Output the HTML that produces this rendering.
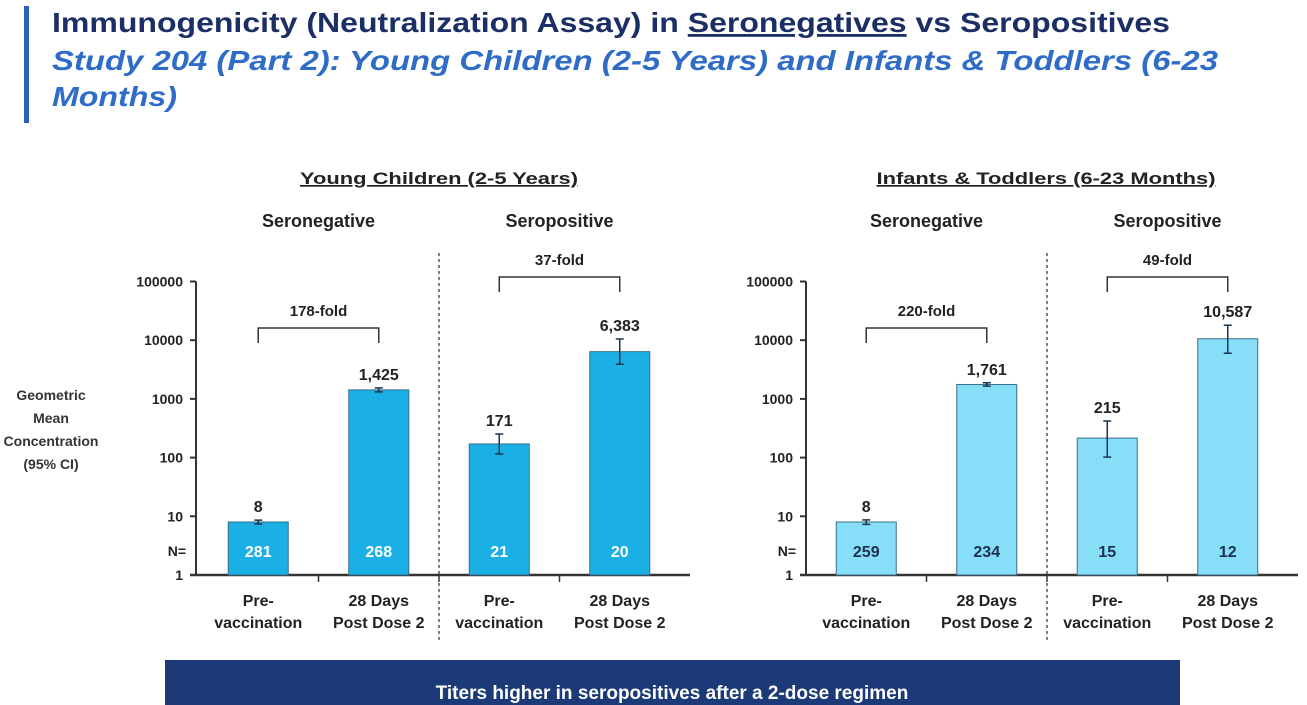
<!DOCTYPE html>
<html><head><meta charset="utf-8">
<style>
html,body{margin:0;padding:0;background:#fff;}
body{width:1307px;height:705px;overflow:hidden;position:relative;font-family:"Liberation Sans",Arial,sans-serif;}
svg{position:absolute;left:0;top:0;}
</style></head>
<body>
<svg id="chart" width="1307" height="705" viewBox="0 0 1307 705" font-family="Liberation Sans, Arial, sans-serif">
  <rect x="24" y="6" width="5" height="117" fill="#2c5fb5"/>
  <text x="52" y="32" font-size="28" font-weight="bold" fill="#1b2f66" textLength="1118" lengthAdjust="spacingAndGlyphs">Immunogenicity (Neutralization Assay) in <tspan text-decoration="underline">Seronegatives</tspan> vs Seropositives</text>
  <text x="52" y="70" font-size="28" font-weight="bold" font-style="italic" fill="#2e6cc8" textLength="1166" lengthAdjust="spacingAndGlyphs">Study 204 (Part 2): Young Children (2-5 Years) and Infants &amp; Toddlers (6-23</text>
  <text x="52" y="106" font-size="28" font-weight="bold" font-style="italic" fill="#2e6cc8" textLength="125" lengthAdjust="spacingAndGlyphs">Months)</text>

  <g font-size="14" font-weight="bold" fill="#333" text-anchor="middle">
    <text x="51" y="400">Geometric</text>
    <text x="51" y="423">Mean</text>
    <text x="51" y="446">Concentration</text>
    <text x="51" y="469">(95% CI)</text>
  </g>

  <rect x="165" y="660" width="1015" height="45" fill="#1c3a78"/>
  <text x="672" y="699" font-size="19" font-weight="bold" fill="#fff" text-anchor="middle">Titers higher in seropositives after a 2-dose regimen</text>
  <g id="panels"></g>
</svg>
<script>
const panelTitles = ["Young Children (2-5 Years)", "Infants & Toddlers (6-23 Months)"];
const groupLabels = ["Seronegative", "Seropositive"];
const catLine1 = ["Pre-", "28 Days", "Pre-", "28 Days"];
const catLine2 = ["vaccination", "Post Dose 2", "vaccination", "Post Dose 2"];
const childGMC = [8, 1425, 171, 6383];
const childLow = [7.4, 1320, 115, 3900];
const childHigh = [8.6, 1540, 252, 10500];
const childN = ["281", "268", "21", "20"];
const childLabels = ["8", "1,425", "171", "6,383"];
const childFold = ["178-fold", "37-fold"];
const infGMC = [8, 1761, 215, 10587];
const infLow = [7.3, 1650, 102, 6000];
const infHigh = [8.7, 1880, 420, 18000];
const infN = ["259", "234", "15", "12"];
const infLabels = ["8", "1,761", "215", "10,587"];
const infFold = ["220-fold", "49-fold"];
const yTicks = [1, 10, 100, 1000, 10000, 100000];
const yTickLabels = ["1", "10", "100", "1000", "10000", "100000"];

const NS = "http://www.w3.org/2000/svg";
const root = document.getElementById("panels");
function mk(tag, attrs, parent, text) {
  const e = document.createElementNS(NS, tag);
  for (const k in attrs) e.setAttribute(k, attrs[k]);
  if (text !== undefined) e.textContent = text;
  (parent || root).appendChild(e);
  return e;
}
const yBase = 575, decade = 58.7;
function y(v) { return yBase - Math.log10(v) * decade; }

function panel(p, axisX, x0, step, barW, color, nColor, gmc, lo, hi, ns, labels, folds, title, titleX, titleW) {
  const g = mk("g", {});
  
  
  const xc = i => x0 + step * i + step / 2;
  const right = x0 + step * 4 + 10;
  const t = mk("text", {x: titleX, y: 184, "font-size": 17, "font-weight": "bold", fill: "#222", "text-anchor": "middle", "text-decoration": "underline", textLength: titleW, lengthAdjust: "spacingAndGlyphs"}, g, title);
  
  
  groupLabels.forEach((gl, k) => {
    const e = mk("text", {x: (xc(2 * k) + xc(2 * k + 1)) / 2, y: 227, "font-size": 18, "font-weight": "bold", fill: "#222", "text-anchor": "middle"}, g, gl);
    
    
  });
  const ax = mk("line", {x1: axisX, y1: y(100000), x2: axisX, y2: yBase, stroke: "#333", "stroke-width": 2}, g);
  
  
  const bx = mk("line", {x1: axisX - 6, y1: yBase, x2: right, y2: yBase, stroke: "#333", "stroke-width": 2.5}, g);
  
  
  yTicks.forEach((v, i) => {
    mk("line", {x1: axisX - 6, y1: y(v), x2: axisX, y2: y(v), stroke: "#333", "stroke-width": 2}, g);
    const tl = mk("text", {x: axisX - 13, y: y(v) + 5, "font-size": 14, "font-weight": "bold", fill: "#222", "text-anchor": "end"}, g, yTickLabels[i]);
    
    
  });
  const nl = mk("text", {x: axisX - 10, y: 556, "font-size": 14, "font-weight": "bold", fill: "#222", "text-anchor": "end"}, g, "N=");
  
  
  for (let i = 1; i <= 3; i++) mk("line", {x1: x0 + step * i, y1: yBase, x2: x0 + step * i, y2: yBase + 7, stroke: "#333", "stroke-width": 1.5}, g);
  const dv = mk("line", {x1: x0 + step * 2, y1: 253, x2: x0 + step * 2, y2: yBase + 65, stroke: "#555", "stroke-width": 1.5, "stroke-dasharray": "3,3"}, g);
  
  
  gmc.forEach((v, i) => {
    const cx = xc(i);
    const b = mk("rect", {x: cx - barW / 2, y: y(v), width: barW, height: yBase - y(v), fill: color, stroke: "#3a6e8a", "stroke-width": 1}, g);
    
    
    const eb = mk("path", {d: `M${cx - 4},${y(hi[i])}H${cx + 4}M${cx},${y(hi[i])}V${y(lo[i])}M${cx - 4},${y(lo[i])}H${cx + 4}`, stroke: "#1a3550", "stroke-width": 1.5, fill: "none"}, g);
    
    
    const vl = mk("text", {x: cx, y: y(hi[i]) - 8, "font-size": 16, "font-weight": "bold", fill: "#222", "text-anchor": "middle"}, g, labels[i]);
    
    
    const nt = mk("text", {x: cx, y: 557, "font-size": 16, "font-weight": "bold", fill: nColor, "text-anchor": "middle"}, g, ns[i]);
    
    
    const c1 = mk("text", {x: cx, y: 606, "font-size": 16, "font-weight": "bold", fill: "#222", "text-anchor": "middle"}, g, catLine1[i]);
    
    
    const c2 = mk("text", {x: cx, y: 628, "font-size": 16, "font-weight": "bold", fill: "#222", "text-anchor": "middle"}, g, catLine2[i]);
    
    
  });
  folds.forEach((f, k) => {
    const a = xc(2 * k), b2 = xc(2 * k + 1);
    const by = k === 0 ? 328 : 277;
    const br = mk("path", {d: `M${a},${by + 15}V${by}H${b2}V${by + 15}`, stroke: "#333", "stroke-width": 1.5, fill: "none"}, g);
    
    
    const ft = mk("text", {x: (a + b2) / 2, y: by - 12, "font-size": 15, "font-weight": "bold", fill: "#222", "text-anchor": "middle"}, g, f);
    
    
  });
}
panel("children", 196, 198, 120.5, 60, "#1ab0e6", "#ffffff", childGMC, childLow, childHigh, childN, childLabels, childFold, panelTitles[0], 439, 278);
panel("infants", 806, 806, 120.5, 60, "#87def8", "#1b3050", infGMC, infLow, infHigh, infN, infLabels, infFold, panelTitles[1], 1046, 339);
</script>
</body></html>
